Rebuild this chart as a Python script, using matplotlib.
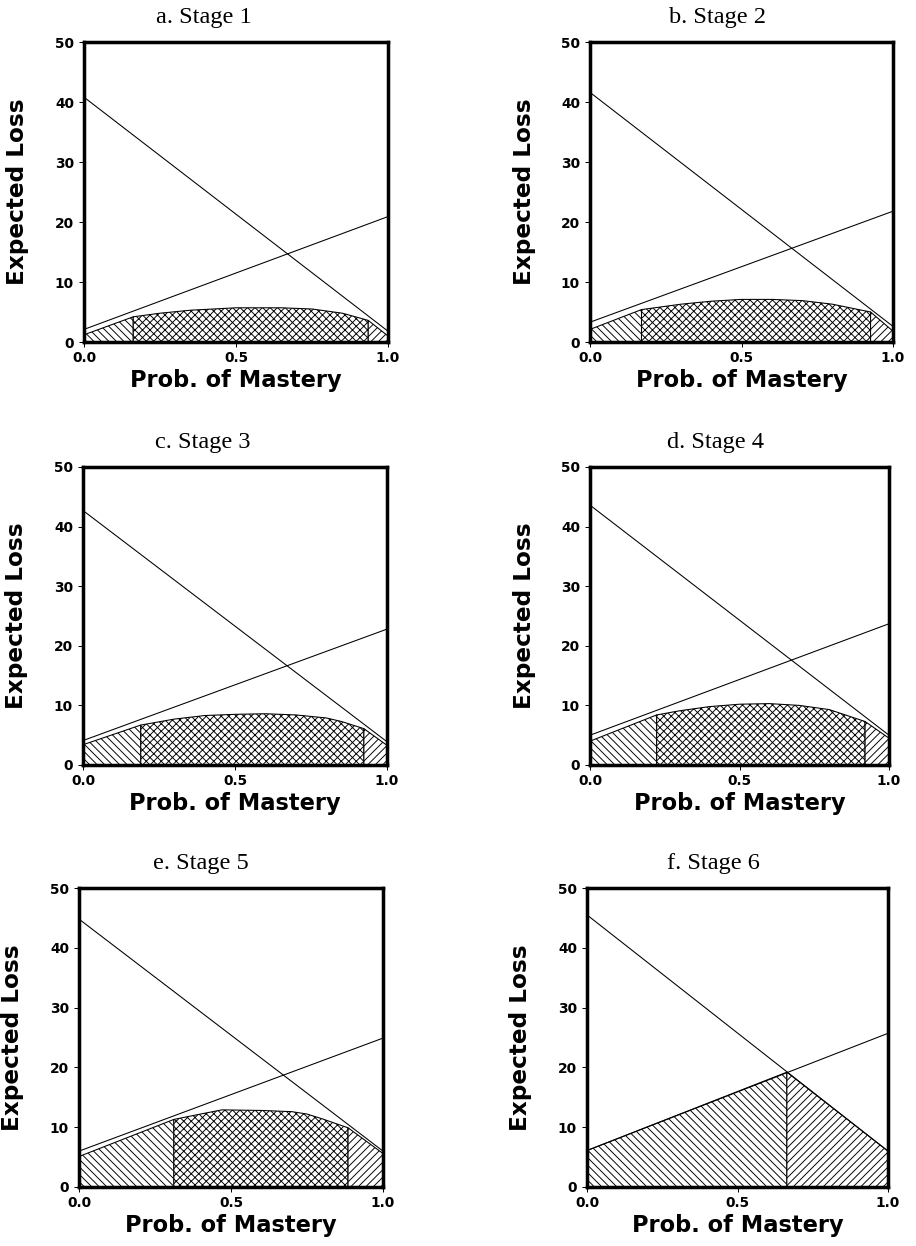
import numpy as np
import matplotlib
matplotlib.use("Agg")
import matplotlib.pyplot as plt

DPI = 90
W, H = 916, 1246

titles = ["a. Stage 1", "b. Stage 2", "c. Stage 3", "d. Stage 4", "e. Stage 5", "f. Stage 6"]

# straight expected-loss lines: value at p=0 and at p=1
desc_start = [40.8, 41.6, 42.7, 43.6, 44.8, 45.5]
desc_end = [1.8, 2.6, 3.9, 5.0, 6.0, 6.0]
asc_start = [2.1, 3.3, 4.1, 5.0, 6.0, 6.1]
asc_end = [20.9, 21.8, 22.8, 23.7, 24.9, 25.7]

# cut points separating the hatched regions
cut_low = [0.162, 0.17, 0.19, 0.223, 0.312, 0.664]
cut_high = [0.935, 0.926, 0.924, 0.92, 0.885, 0.664]

# upper boundary of the hatched area
curve_x1 = [0.0, 0.162, 0.25, 0.35, 0.5, 0.65, 0.75, 0.85, 0.935, 1.0]
curve_y1 = [1.2, 4.2, 4.8, 5.3, 5.7, 5.7, 5.5, 4.8, 3.6, 1.0]
curve_x2 = [0.0, 0.17, 0.3, 0.4, 0.5, 0.6, 0.7, 0.8, 0.926, 1.0]
curve_y2 = [2.1, 5.4, 6.3, 6.8, 7.1, 7.1, 6.9, 6.3, 5.0, 1.8]
curve_x3 = [0.0, 0.19, 0.3, 0.4, 0.5, 0.6, 0.7, 0.8, 0.85, 0.924, 1.0]
curve_y3 = [3.4, 6.7, 7.7, 8.3, 8.5, 8.6, 8.4, 7.9, 7.3, 6.1, 3.3]
curve_x4 = [0.0, 0.223, 0.3, 0.4, 0.5, 0.6, 0.7, 0.8, 0.92, 1.0]
curve_y4 = [4.0, 8.4, 9.1, 9.8, 10.2, 10.3, 10.0, 9.3, 7.3, 4.5]
curve_x5 = [0.0, 0.312, 0.4, 0.47, 0.6, 0.7, 0.75, 0.8, 0.885, 1.0]
curve_y5 = [5.1, 11.3, 12.2, 12.9, 12.8, 12.6, 12.2, 11.4, 9.9, 5.6]
curve_x6 = [0.0, 0.664, 1.0]
curve_y6 = [6.1, 19.2, 6.0]

curves_x = [curve_x1, curve_x2, curve_x3, curve_x4, curve_x5, curve_x6]
curves_y = [curve_y1, curve_y2, curve_y3, curve_y4, curve_y5, curve_y6]

y_ticks = [0, 10, 20, 30, 40, 50]
x_ticks = [0.0, 0.5, 1.0]
x_ticklabels = ["0.0", "0.5", "1.0"]

# panel frames in pixels: left, right, top, bottom
frames = [(84, 388, 42, 342), (590, 893, 42, 342),
          (83, 387, 467, 765), (590, 889, 467, 765),
          (79, 383, 888, 1187), (587, 888, 888, 1187)]
title_x = [0.395, 0.42, 0.395, 0.42, 0.40, 0.42]

plt.rcParams["hatch.linewidth"] = 0.75
fig = plt.figure(figsize=(W / DPI, H / DPI), dpi=DPI)
px = 72.0 / DPI  # points per pixel

for i in range(6):
    l, r, t, b = frames[i]
    ax = fig.add_axes([l / W, 1 - b / H, (r - l) / W, (b - t) / H])
    ax.set_xlim(0, 1)
    ax.set_ylim(0, 50)

    cx = np.array(curves_x[i])
    cy = np.array(curves_y[i])
    c1, c2 = cut_low[i], cut_high[i]
    ax.fill_between(cx, 0, cy, where=cx <= c1 + 1e-9, facecolor="white",
                    edgecolor="black", hatch="\\\\\\\\", linewidth=0.85, zorder=2)
    if c2 > c1:
        ax.fill_between(cx, 0, cy, where=(cx >= c1 - 1e-9) & (cx <= c2 + 1e-9),
                        facecolor="white", edgecolor="black", hatch="xxxx",
                        linewidth=0.85, zorder=2)
    ax.fill_between(cx, 0, cy, where=cx >= c2 - 1e-9, facecolor="white",
                    edgecolor="black", hatch="////", linewidth=0.85, zorder=2)

    ax.plot([0, 1], [desc_start[i], desc_end[i]], color="black", lw=0.85, zorder=3)
    ax.plot([0, 1], [asc_start[i], asc_end[i]], color="black", lw=0.85, zorder=3)

    for s in ax.spines.values():
        s.set_linewidth(2.8)
        s.set_zorder(5)

    ax.set_yticks(y_ticks)
    ax.set_yticklabels([str(v) for v in y_ticks])
    ax.set_xticks(x_ticks)
    ax.set_xticklabels(x_ticklabels)
    ax.tick_params(axis="both", direction="out", length=5 * px, width=0.8,
                   labelsize=11)
    ax.tick_params(axis="y", pad=5 * px)
    ax.tick_params(axis="x", pad=4 * px)
    for lab in ax.get_xticklabels() + ax.get_yticklabels():
        lab.set_fontfamily("DejaVu Sans")
        lab.set_fontweight("bold")

    ax.annotate(titles[i], xy=(title_x[i], 1), xycoords="axes fraction",
                xytext=(0, 19 * px), textcoords="offset points",
                ha="center", va="baseline", fontsize=19.5,
                family="Liberation Serif")
    ax.annotate("Prob. of Mastery", xy=(0.5, 0), xycoords="axes fraction",
                xytext=(0, -45 * px), textcoords="offset points",
                ha="center", va="baseline", fontsize=18, fontweight="bold",
                family="DejaVu Sans")
    ax.annotate("Expected Loss", xy=(0, 0.5), xycoords="axes fraction",
                xytext=(-66 * px, 0), textcoords="offset points",
                ha="center", va="center", rotation=90, fontsize=18.5,
                fontweight="bold", family="DejaVu Sans")

fig.savefig("out.png", dpi=DPI)
